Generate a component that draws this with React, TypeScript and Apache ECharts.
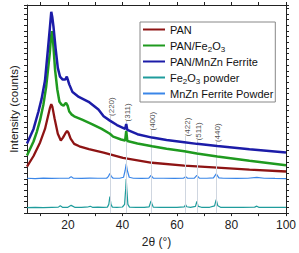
import React, { useEffect, useRef } from 'react';
import * as echarts from 'echarts';

// 2θ (°) and intensity (counts)
const panX = [5, 7.4, 9.8, 11.6, 12.7, 13.45, 13.9, 14.3, 15.1, 16.3, 17.4, 18.2, 19.0, 19.7, 20.2, 21.0, 22.3, 24.2, 27.7, 33.1, 40.2, 50.9, 62.7, 74.8, 86.6, 100];
const panY = [816, 1003, 1241, 1479, 1700, 1853, 1913, 1870, 1666, 1394, 1275, 1326, 1394, 1445, 1411, 1309, 1216, 1173, 1122, 1063, 969, 884, 833, 799, 765, 731];

const panFeX = [5, 7.4, 8.6, 9.8, 11.0, 12.0, 12.7, 13.35, 13.8, 14.15, 14.5, 14.8, 15.3, 16.1, 16.9, 17.7, 18.4, 19.3, 19.9, 20.5, 21.3, 22.3, 25.2, 28.8, 32.4, 35.4, 36.6, 39.5, 41.0, 41.4, 41.8, 45.5, 50.9, 56.2, 62.7, 67.3, 74.8, 86.6, 100];
const panFeY = [1012, 1258, 1428, 1632, 1904, 2210, 2516, 2805, 3094, 3196, 3060, 2856, 2516, 2176, 1955, 1904, 1887, 1938, 1887, 1785, 1734, 1700, 1641, 1564, 1479, 1394, 1343, 1292, 1275, 1445, 1267, 1224, 1173, 1131, 1088, 1046, 995, 918, 842];

const panMnX = [5, 7.4, 9.2, 10.35, 11.6, 12.7, 13.35, 13.9, 14.3, 14.7, 15.5, 16.3, 17.1, 18.1, 19.05, 19.6, 20.5, 21.7, 24.0, 27.6, 31.2, 33.1, 35.4, 38.0, 41.0, 41.4, 41.8, 45.5, 50.9, 56.2, 62.7, 67.3, 74.8, 86.6, 100];
const panMnY = [1224, 1479, 1785, 2006, 2329, 2890, 3230, 3536, 3434, 3281, 2890, 2550, 2397, 2346, 2346, 2397, 2261, 2125, 2040, 1955, 1819, 1700, 1624, 1547, 1479, 1564, 1462, 1386, 1326, 1284, 1246, 1216, 1178, 1122, 1063];

const fePowderX = [5, 8, 11, 14, 16.5, 17.2, 18, 20, 21.2, 22.5, 25, 27.5, 28.2, 29, 31, 33, 34.5, 35.0, 35.4, 35.8, 36.3, 38, 40, 40.8, 41.2, 41.4, 41.6, 42.0, 42.6, 45, 48, 49.8, 50.2, 50.5, 50.8, 51.3, 54, 57, 60, 62.7, 63.2, 63.6, 65, 66.8, 67.3, 67.8, 69, 72, 73.8, 74.4, 75.0, 76, 80, 84, 88.5, 89.3, 90, 95, 100];
const fePowderY = [97, 102, 95, 102, 105, 128, 102, 102, 136, 102, 99, 111, 119, 102, 105, 102, 105, 153, 289, 153, 105, 102, 107, 153, 425, 600, 425, 153, 105, 102, 102, 111, 170, 213, 170, 105, 99, 102, 102, 111, 148, 111, 102, 119, 204, 119, 102, 102, 128, 238, 128, 102, 99, 102, 105, 122, 102, 99, 102];

const mnPowderX = [5, 8, 11, 14, 17, 20.5, 21.2, 22, 25, 28, 31, 34.2, 34.9, 35.4, 35.9, 36.6, 39, 40.4, 41.0, 41.4, 41.8, 42.5, 44, 47, 49.7, 50.5, 51.3, 55, 59, 62.5, 63.2, 63.9, 66.4, 67.3, 68.2, 71, 73.4, 74.4, 75.4, 77, 82, 86, 89.3, 92, 96, 100];
const mnPowderY = [612, 607, 615, 609, 612, 615, 641, 612, 609, 615, 612, 612, 646, 697, 646, 612, 612, 629, 748, 867, 748, 629, 612, 609, 615, 663, 615, 612, 609, 615, 641, 612, 615, 663, 615, 612, 620, 689, 620, 612, 609, 612, 626, 612, 609, 607];

const peakPos = [35.4, 41.4, 50.5, 63.2, 67.3, 74.4];
const peakLabels = ['(220)', '(311)', '(400)', '(422)', '(511)', '(440)'];
const peakLabelY = [1870, 1768, 1615, 1513, 1437, 1411];

const seriesNames = ['PAN', 'PAN/Fe2O3', 'PAN/MnZn Ferrite', 'Fe2O3 powder', 'MnZn Ferrite Powder'];
const xTicks = [10, 20, 30, 40, 50, 60, 70, 80, 90, 100];
const xLabels = [20, 40, 60, 80, 100];

export default function App() {
  const ref = useRef<HTMLDivElement>(null);
  useEffect(() => {
    const chart = echarts.init(ref.current!, null, { renderer: 'svg' });
    const font = '"Liberation Sans", Arial, sans-serif';
    const zip = (xs: number[], ys: number[]) => xs.map((x, i) => [x, ys[i]]);
    const axisColor = '#222';
    const xBase = {
      type: 'value', min: 5, max: 100,
      axisLine: { show: true, onZero: false, lineStyle: { color: axisColor, width: 1 } },
      axisTick: { show: true, inside: false, length: 3, customValues: xTicks, lineStyle: { color: axisColor } },
      splitLine: { show: false },
    };
    const yBase = {
      type: 'value', min: 0, max: 3655, interval: 100,
      axisLine: { show: true, onZero: false, lineStyle: { color: axisColor, width: 1 } },
      axisTick: { show: true, inside: false, length: 3, lineStyle: { color: axisColor } },
      axisLabel: { show: false },
      splitLine: { show: false },
    };
    const lineSeries = (name: string, xs: number[], ys: number[], color: string, width: number, z: number) => ({
      name, type: 'line', data: zip(xs, ys), showSymbol: false, symbol: 'none', z,
      lineStyle: { color, width }, itemStyle: { color }, silent: true,
    });
    chart.setOption({
      animation: false,
      backgroundColor: '#fff',
      grid: { left: 21, right: 11, top: 5, bottom: 33 },
      xAxis: [
        {
          ...xBase, position: 'bottom',
          axisLabel: { show: true, customValues: xLabels, fontSize: 12, color: '#222', fontFamily: font, margin: 6 },
          name: '2θ (°)', nameLocation: 'middle', nameGap: 18,
          nameTextStyle: { fontSize: 12, color: '#222', fontFamily: font },
        },
        { ...xBase, position: 'top', axisLabel: { show: false } },
      ],
      yAxis: [
        {
          ...yBase, position: 'left',
          name: 'Intensity (counts)', nameLocation: 'middle', nameGap: 7, nameRotate: 90,
          nameTextStyle: { fontSize: 11.5, color: '#222', fontFamily: font },
        },
        { ...yBase, position: 'right' },
      ],
      legend: {
        data: seriesNames, orient: 'vertical', left: 140, top: 22,
        padding: [1, 2, 2, 3], itemGap: 2, itemWidth: 22, itemHeight: 2, icon: 'rect',
        borderColor: '#888', borderWidth: 1, backgroundColor: '#fff',
        textStyle: {
          fontFamily: font, fontSize: 11, color: '#111', lineHeight: 13,
          rich: { s: { fontFamily: font, fontSize: 8, color: '#111', verticalAlign: 'bottom', lineHeight: 15 } },
        },
        formatter: (n: string) => n.replace(/(\d)/g, '{s|$1}'),
      },
      series: [
        {
          type: 'line', data: [], silent: true, z: 1,
          markLine: {
            silent: true, symbol: ['none', 'none'], label: { show: false },
            lineStyle: { color: '#cfd6e0', width: 1, type: 'solid' },
            data: peakPos.map((p, i) => [{ coord: [p, peakLabelY[i] - 150] }, { coord: [p, 0] }]),
          },
        },
        lineSeries(seriesNames[3], fePowderX, fePowderY, '#1f9c9c', 1.2, 3),
        lineSeries(seriesNames[4], mnPowderX, mnPowderY, '#3a86e8', 1.2, 3),
        lineSeries(seriesNames[0], panX, panY, '#8e1414', 2.3, 4),
        lineSeries(seriesNames[1], panFeX, panFeY, '#1f9a1f', 2.5, 5),
        lineSeries(seriesNames[2], panMnX, panMnY, '#1c1ca8', 2.5, 6),
        {
          type: 'scatter', symbolSize: 0, silent: true, z: 7,
          data: peakPos.map((p, i) => [p + 0.6, peakLabelY[i]]),
          label: {
            show: true, position: 'inside', rotate: 90, fontSize: 8, color: '#1a1a1a', fontFamily: font,
            formatter: (pr: any) => peakLabels[pr.dataIndex],
          },
        },
      ],
    });
    return () => chart.dispose();
  }, []);
  return <div ref={ref} style={{ position: 'fixed', left: 0, top: 0, width: 299, height: 253, background: '#fff' }} />;
}
